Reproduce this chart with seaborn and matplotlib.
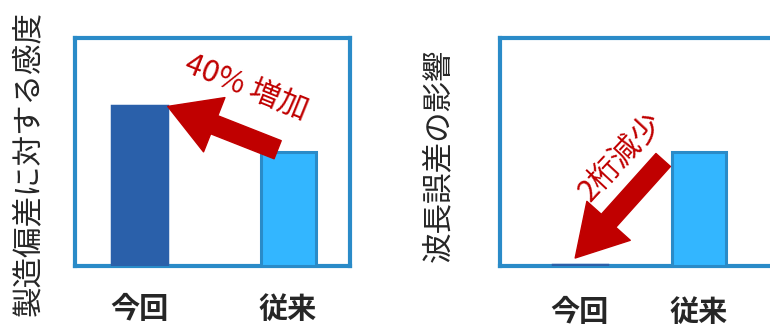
import matplotlib
matplotlib.use("Agg")
import matplotlib.pyplot as plt
import seaborn as sns

# data
categories = ["今回", "従来"]
sensitivity = [1.4, 1.0]        # 製造偏差に対する感度 (40% 増加)
wavelength_effect = [0.01, 1.0]  # 波長誤差の影響 (2桁減少)

dark_blue = "#2a60aa"
light_blue = "#33b6ff"
edge_blue = "#2a8bc8"
red = "#c00000"

sns.set_style("white")
plt.rcParams['font.family'] = ['Noto Sans CJK JP', 'DejaVu Sans']

fig = plt.figure(figsize=(7.7, 3.27), dpi=100)
ax1 = fig.add_axes([75 / 770, 61 / 327, 275 / 770, 228 / 327])
ax2 = fig.add_axes([500 / 770, 61 / 327, 275 / 770, 228 / 327])


def draw_panel(ax, values, width, xlim, ylabel, label_xy, pad):
    sns.barplot(x=categories, y=values, hue=categories,
                palette=[dark_blue, light_blue], width=width, saturation=1,
                legend=False, ax=ax, zorder=3)
    ax.patches[0].set_edgecolor(dark_blue)
    ax.patches[0].set_linewidth(2.5)
    ax.patches[1].set_edgecolor(edge_blue)
    ax.patches[1].set_linewidth(2.2)
    ax.set_xlim(*xlim)
    ax.set_ylim(0, 2.0)
    ax.set_yticks([])
    ax.tick_params(axis='x', length=0, pad=pad)
    for lab in ax.get_xticklabels():
        lab.set_fontsize(21)
        lab.set_fontweight('bold')
    for s in ax.spines.values():
        s.set_color(edge_blue)
        s.set_linewidth(3)
    ax.set_xlabel("")
    ax.set_ylabel(ylabel, fontsize=22, va='center')
    ax.yaxis.set_label_coords(*label_xy)


draw_panel(ax1, sensitivity, 0.37, (-0.434, 1.417),
           "製造偏差に対する感度", (-0.17, 0.45), 20)
draw_panel(ax2, wavelength_effect, 0.46, (-0.672, 1.64),
           "波長誤差の影響", (-0.225, 0.487), 22)

arrow = dict(arrowstyle="simple,head_length=3.6,head_width=4.2,tail_width=1.4",
             color=red, mutation_scale=10, shrinkA=0, shrinkB=0)

# 40% increase: from the old bar up to the new one
ax1.annotate("", xy=(0.19, sensitivity[0]),
             xytext=(0.93, sensitivity[1] + 0.02), arrowprops=arrow, zorder=4)
ax1.text(0.72, 1.57, "40% 増加", color=red, fontsize=22,
         rotation=-22, ha='center', va='center')

# two orders of magnitude decrease
ax2.annotate("", xy=(-0.04, 0.07),
             xytext=(0.70, wavelength_effect[1] - 0.07), arrowprops=arrow, zorder=4)
ax2.text(0.34, 0.96, "2桁減少", color=red, fontsize=22,
         rotation=47, ha='center', va='center')

fig.savefig("out.png", dpi=100)
